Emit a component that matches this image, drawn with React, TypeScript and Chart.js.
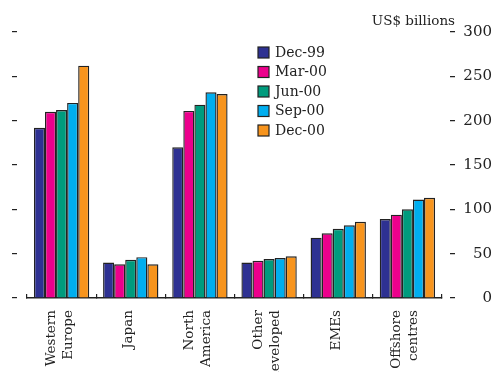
import React, { useEffect, useRef } from "react";
import { Chart, registerables } from "chart.js";

Chart.register(...registerables);

// ---- data ----
const categories: string[][] = [
  ["Western", "Europe"],
  ["Japan"],
  ["North", "America"],
  ["Other", "developed"],
  ["EMEs"],
  ["Offshore", "centres"],
];
const seriesNames = ["Dec-99", "Mar-00", "Jun-00", "Sep-00", "Dec-00"];
const dec99 = [192, 40, 170, 40, 68, 89];
const mar00 = [210, 38, 211, 42, 73, 94];
const jun00 = [212, 43, 218, 44, 78, 100];
const sep00 = [220, 46, 232, 45, 82, 111];
const dec00 = [262, 38, 230, 47, 86, 113];
const yMin = 0;
const yMax = 300;
const yStep = 50;
const unitLabel = "US$ billions";

const seriesValues = [dec99, mar00, jun00, sep00, dec00];
const colors = ["#2e3192", "#ec008c", "#009b7d", "#00aeef", "#f7941d"];
const FONT = "'DejaVu Serif', serif";
const INK = "#222222";
const LINE_GAP = 17; // spacing between the two lines of a category label

// Lay out category labels on a half-line grid so one-line and two-line labels
// are both centred on their category after a global labelOffset.
const tickLabels = categories.map((lines) =>
  lines.length === 1 ? ["", lines[0]] : [lines[0], "", lines[1]]
);

const legendPlugin = {
  id: "boxLegend",
  afterDraw(chart: any) {
    const ctx = chart.ctx;
    const area = chart.chartArea;
    const x0 = area.left + 231;
    const y0 = area.top + 20.5;
    const step = 19.5;
    ctx.save();
    ctx.font = `14px ${FONT}`;
    ctx.textBaseline = "middle";
    ctx.textAlign = "left";
    chart.data.datasets.forEach((ds: any, i: number) => {
      const y = y0 + i * step;
      ctx.fillStyle = ds.backgroundColor;
      ctx.fillRect(x0, y - 5.5, 11, 11);
      ctx.strokeStyle = INK;
      ctx.lineWidth = 1.2;
      ctx.strokeRect(x0, y - 5.5, 11, 11);
      ctx.fillStyle = INK;
      ctx.fillText(ds.label, x0 + 17, y + 0.5);
    });
    ctx.textAlign = "right";
    ctx.textBaseline = "alphabetic";
    ctx.font = `13.5px ${FONT}`;
    ctx.fillText(unitLabel, area.right + 13, area.top - 7.5);
    ctx.restore();
  },
};

export default function App() {
  const canvasRef = useRef<HTMLCanvasElement | null>(null);

  useEffect(() => {
    if (!canvasRef.current) return;
    const chart = new Chart(canvasRef.current, {
      type: "bar",
      data: {
        labels: tickLabels,
        datasets: seriesNames.map((name, i) => ({
          label: name,
          data: seriesValues[i],
          backgroundColor: colors[i],
          borderColor: INK,
          borderWidth: 1.4,
          barPercentage: 1.0,
          categoryPercentage: 0.8,
          yAxisID: "y",
        })),
      },
      options: {
        animation: false,
        responsive: false,
        maintainAspectRatio: false,
        layout: { padding: { left: 12, right: 0, top: 32, bottom: 0 } },
        plugins: {
          legend: { display: false },
          tooltip: { enabled: false },
          title: { display: false },
        },
        scales: {
          x: {
            position: "bottom",
            border: { display: true, color: INK, width: 1.5 },
            grid: {
              offset: true,
              drawOnChartArea: false,
              drawTicks: true,
              tickLength: -4,
              tickColor: INK,
              lineWidth: 1.2,
            },
            ticks: {
              autoSkip: false,
              maxRotation: 90,
              minRotation: 90,
              padding: 16,
              labelOffset: -LINE_GAP / 2 - 2,
              color: INK,
              font: { family: FONT, size: 13.5, lineHeight: `${LINE_GAP / 2}px` },
            },
            afterFit: (scale: any) => {
              scale.height = 92;
            },
          },
          y: {
            position: "left",
            min: yMin,
            max: yMax,
            border: { display: false },
            grid: {
              drawOnChartArea: false,
              drawTicks: true,
              tickLength: 15,
              tickColor: INK,
              lineWidth: 1.2,
              tickBorderDash: [5, 100],
            },
            ticks: { display: false, stepSize: yStep },
            afterFit: (scale: any) => {
              scale.width = 15;
            },
          },
          y2: {
            position: "right",
            min: yMin,
            max: yMax,
            border: { display: false },
            grid: {
              drawOnChartArea: false,
              drawTicks: true,
              tickLength: 13,
              tickColor: INK,
              lineWidth: 1.2,
              tickBorderDash: [0, 8, 5, 100],
            },
            ticks: {
              stepSize: yStep,
              padding: 6,
              crossAlign: "far",
              color: INK,
              font: { family: FONT, size: 15 },
            },
            afterFit: (scale: any) => {
              scale.width = 50;
            },
          },
        },
      },
      plugins: [legendPlugin],
    } as any);
    return () => chart.destroy();
  }, []);

  return (
    <div
      style={{
        position: "fixed",
        left: 0,
        top: 0,
        width: 492,
        height: 372,
        overflow: "hidden",
        background: "#ffffff",
      }}
    >
      <canvas
        ref={canvasRef}
        width={492}
        height={390}
        style={{ display: "block", width: 492, height: 390 }}
      />
    </div>
  );
}
